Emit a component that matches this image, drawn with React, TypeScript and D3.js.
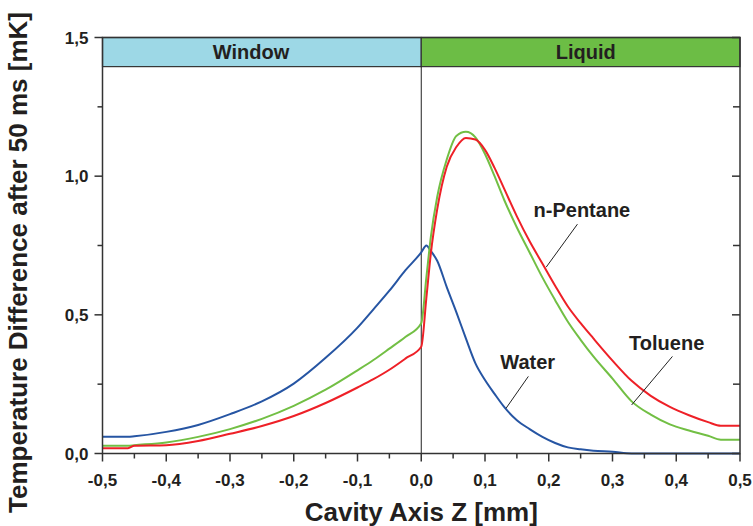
import React from "react";
import * as d3 from "d3";

// axial position z [mm], shared by all three series
const zValues = [
  -0.5, -0.46, -0.45, -0.4, -0.35, -0.3, -0.25, -0.2, -0.15, -0.1, -0.075, -0.05, -0.025, 0,
  0.008, 0.015, 0.025, 0.04, 0.055, 0.07, 0.085, 0.1, 0.115, 0.13, 0.15, 0.17, 0.19, 0.21,
  0.23, 0.25, 0.27, 0.3, 0.33, 0.36, 0.39, 0.42, 0.45, 0.47, 0.5,
];

const waterValues = [
  0.06, 0.06, 0.062, 0.078, 0.103, 0.142, 0.188, 0.252, 0.345, 0.454, 0.52, 0.587, 0.66, 0.725,
  0.75, 0.73, 0.695, 0.6, 0.51, 0.415, 0.325, 0.265, 0.215, 0.168, 0.12, 0.088, 0.06, 0.038,
  0.022, 0.015, 0.01, 0.006, 0, 0, 0, 0, 0, 0, 0,
];

const pentaneValues = [
  0.019, 0.019, 0.028, 0.03, 0.045, 0.071, 0.099, 0.135, 0.182, 0.238, 0.268, 0.302, 0.342, 0.385,
  0.56, 0.72, 0.88, 1.034, 1.105, 1.138, 1.132, 1.095, 1.03, 0.955, 0.855, 0.765, 0.685, 0.605,
  0.53, 0.47, 0.415, 0.335, 0.262, 0.208, 0.168, 0.138, 0.113, 0.1, 0.1,
];

const tolueneValues = [
  0.028, 0.028, 0.03, 0.04, 0.06, 0.088, 0.125, 0.172, 0.23, 0.3, 0.337, 0.378, 0.42, 0.47,
  0.634, 0.78, 0.925, 1.06, 1.145, 1.16, 1.14, 1.08, 1.0, 0.915, 0.815, 0.725, 0.635, 0.553,
  0.475, 0.41, 0.35, 0.27, 0.188, 0.14, 0.105, 0.083, 0.064, 0.05, 0.05,
];

const series = [
  { name: "Water", values: waterValues, color: "#2655a3" },
  { name: "Toluene", values: tolueneValues, color: "#72bf44" },
  { name: "n-Pentane", values: pentaneValues, color: "#ee2027" },
];

const xTicks = [-0.5, -0.4, -0.3, -0.2, -0.1, 0, 0.1, 0.2, 0.3, 0.4, 0.5];
const xMinorTicks = [-0.45, -0.35, -0.25, -0.15, -0.05, 0.05, 0.15, 0.25, 0.35, 0.45];
const yTicks = [0, 0.5, 1.0, 1.5];
const yMinorTicks = [0.25, 0.75, 1.25];

const regions = [
  { label: "Window", from: -0.5, to: 0, labelAt: -0.267, fill: "#9dd8e6" },
  { label: "Liquid", from: 0, to: 0.5, labelAt: 0.258, fill: "#6cbd45" },
];
const regionBottom = 1.395;

// label position and leader line, in data units
const annotations = [
  { text: "n-Pentane", x: 0.252, y: 0.853, from: [0.245, 0.827], to: [0.196, 0.672] },
  { text: "Toluene", x: 0.385, y: 0.373, from: [0.394, 0.35], to: [0.33, 0.175] },
  { text: "Water", x: 0.167, y: 0.305, from: [0.168, 0.278], to: [0.133, 0.163] },
];

const width = 753;
const height = 526;
const margin = { top: 37.5, right: 13, bottom: 72.5, left: 102.5 };
const font = "'Liberation Sans', Arial, sans-serif";
const ink = "#231f20";

const locale = d3.formatLocale({
  decimal: ",",
  thousands: ".",
  grouping: [3],
  currency: ["", ""],
  minus: "-",
});
const fmt = locale.format(".1f");

export default function App() {
  const x = d3
    .scaleLinear()
    .domain([-0.5, 0.5])
    .range([margin.left, width - margin.right]);
  const y = d3
    .scaleLinear()
    .domain([0, 1.5])
    .range([height - margin.bottom, margin.top]);

  const line = d3
    .line<number>()
    .x((_, i) => x(zValues[i]))
    .y((d) => y(d))
    .curve(d3.curveMonotoneX);

  const x0 = x(-0.5);
  const x1 = x(0.5);
  const y0 = y(0);
  const y1 = y(1.5);

  return (
    <svg
      width={width}
      height={height}
      style={{ position: "absolute", left: 0, top: 0, background: "#fff" }}
      fontFamily={font}
      fontWeight="bold"
    >
      {/* region bars */}
      {regions.map((r) => (
        <g key={r.label}>
          <rect
            x={x(r.from)}
            y={y(1.5)}
            width={x(r.to) - x(r.from)}
            height={y(regionBottom) - y(1.5)}
            fill={r.fill}
            stroke="#333"
            strokeWidth={1.2}
          />
          <text
            x={x(r.labelAt)}
            y={(y(1.5) + y(regionBottom)) / 2 + 7}
            textAnchor="middle"
            fontSize={20}
            fill={ink}
          >
            {r.label}
          </text>
        </g>
      ))}

      {/* divider at z = 0 */}
      <line x1={x(0)} x2={x(0)} y1={y(regionBottom)} y2={y0} stroke="#222" strokeWidth={1} />

      {/* curves */}
      {series.map((s) => (
        <path key={s.name} d={line(s.values) || ""} fill="none" stroke={s.color} strokeWidth={2} />
      ))}

      {/* frame */}
      <rect x={x0} y={y1} width={x1 - x0} height={y0 - y1} fill="none" stroke="#333" strokeWidth={1.5} />

      {/* x axis ticks */}
      {xTicks.map((t) => (
        <g key={"xt" + t}>
          <line x1={x(t)} x2={x(t)} y1={y0} y2={y0 + 8} stroke="#333" strokeWidth={1.5} />
          <text x={x(t)} y={y0 + 32} textAnchor="middle" fontSize={17} fill={ink}>
            {fmt(t)}
          </text>
        </g>
      ))}
      {xMinorTicks.map((t) => (
        <line key={"xm" + t} x1={x(t)} x2={x(t)} y1={y0} y2={y0 + 5} stroke="#333" strokeWidth={1.5} />
      ))}

      {/* y axis ticks, left outward, right inward */}
      {yTicks.map((t) => (
        <g key={"yt" + t}>
          <line x1={x0 - 8} x2={x0} y1={y(t)} y2={y(t)} stroke="#333" strokeWidth={1.5} />
          <line x1={x1 - 8} x2={x1} y1={y(t)} y2={y(t)} stroke="#333" strokeWidth={1.5} />
          <text x={x0 - 14} y={y(t) + 6} textAnchor="end" fontSize={17} fill={ink}>
            {fmt(t)}
          </text>
        </g>
      ))}
      {yMinorTicks.map((t) => (
        <g key={"ym" + t}>
          <line x1={x0 - 5} x2={x0} y1={y(t)} y2={y(t)} stroke="#333" strokeWidth={1.5} />
          <line x1={x1 - 7} x2={x1} y1={y(t)} y2={y(t)} stroke="#333" strokeWidth={1.5} />
        </g>
      ))}

      {/* annotations */}
      {annotations.map((a) => (
        <g key={a.text}>
          <text x={x(a.x)} y={y(a.y)} textAnchor="middle" fontSize={20} fill={ink}>
            {a.text}
          </text>
          <line
            x1={x(a.from[0])}
            y1={y(a.from[1])}
            x2={x(a.to[0])}
            y2={y(a.to[1])}
            stroke="#222"
            strokeWidth={1}
          />
        </g>
      ))}

      {/* axis titles */}
      <text x={(x0 + x1) / 2} y={521} textAnchor="middle" fontSize={26} fill={ink}>
        Cavity Axis Z [mm]
      </text>
      <text
        transform={`translate(27, ${(y0 + y1) / 2 + 17}) rotate(-90)`}
        textAnchor="middle"
        fontSize={26}
        fill={ink}
      >
        Temperature Difference after 50 ms [mK]
      </text>
    </svg>
  );
}
